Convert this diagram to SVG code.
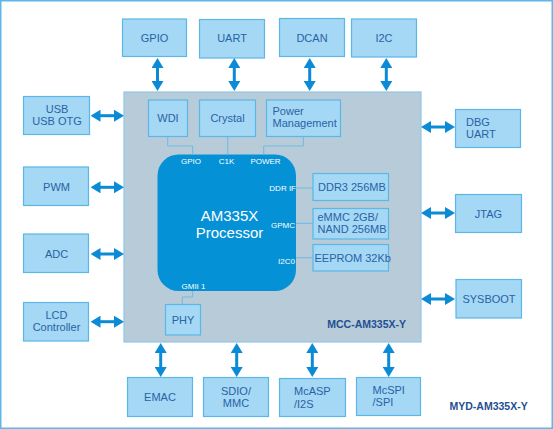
<svg xmlns="http://www.w3.org/2000/svg" width="553" height="429" viewBox="0 0 553 429">
<defs>
<marker id="ah" viewBox="0 0 10 12" refX="2" refY="6" markerWidth="10" markerHeight="12" markerUnits="userSpaceOnUse" orient="auto-start-reverse">
<path d="M0,0 L10,6 L0,12 z" fill="#0b8bd5"/>
</marker>
</defs>
<style>
.box{fill:#a4d8f4;stroke:#5cb6e6;stroke-width:1.2}
.t{font-family:"Liberation Sans",Arial,sans-serif;font-size:11px;fill:#2a62a6;text-anchor:middle}
.tl{font-family:"Liberation Sans",Arial,sans-serif;font-size:11px;fill:#2a62a6}
.s{font-family:"Liberation Sans",Arial,sans-serif;font-size:8px;fill:#ffffff}
.b{font-family:"Liberation Sans",Arial,sans-serif;font-size:10.5px;font-weight:bold;fill:#1f4f92}
.arr{stroke:#0b8bd5;stroke-width:3;fill:none;marker-start:url(#ah);marker-end:url(#ah)}
.wire{stroke:#6dbbe6;stroke-width:1;fill:none}
</style>
<rect x="0.75" y="0.75" width="551.5" height="427.5" fill="#ffffff" stroke="#5db8e8" stroke-width="1.5"/>

<g id="module">
<rect x="124" y="92" width="297" height="250" fill="#b8cbd8" stroke="#8fc6e6" stroke-width="1.2"/>
<text class="b" x="406" y="328" text-anchor="end">MCC-AM335X-Y</text>
</g>

<g id="processor">
<rect x="157.5" y="154.5" width="138.5" height="136.5" rx="21" ry="21" fill="#0591d6"/>
<text x="229.5" y="220.5" font-family="'Liberation Sans',Arial,sans-serif" font-size="15" fill="#ffffff" text-anchor="middle">AM335X</text>
<text x="229.5" y="237.5" font-family="'Liberation Sans',Arial,sans-serif" font-size="15" fill="#ffffff" text-anchor="middle">Processor</text>
<text class="s" x="191" y="164" text-anchor="middle">GPIO</text>
<text class="s" x="226.5" y="163.5" text-anchor="middle">C1K</text>
<text class="s" x="265.5" y="164" text-anchor="middle">POWER</text>
<text class="s" x="296" y="191" text-anchor="end">DDR IF</text>
<text class="s" x="295" y="227.5" text-anchor="end">GPMC</text>
<text class="s" x="295" y="263.5" text-anchor="end">I2C0</text>
<text class="s" x="181.5" y="288.5">GMII 1</text>
</g>

<g id="wdi"><rect class="box" x="148.5" y="100" width="39" height="36.5"/><text class="t" x="168" y="122">WDI</text></g>
<g id="crystal"><rect class="box" x="199.5" y="100" width="56" height="36.5"/><text class="t" x="227.5" y="122">Crystal</text></g>
<g id="power"><rect class="box" x="266.5" y="100" width="74" height="36.5"/><text class="tl" x="272.5" y="115">Power</text><text class="tl" x="272.5" y="127">Management</text></g>
<g id="ddr3"><rect class="box" x="313" y="173.5" width="75.5" height="27"/><text class="tl" x="318" y="191">DDR3 256MB</text></g>
<g id="emmc"><rect class="box" x="313" y="208.5" width="75.5" height="30.5"/><text class="tl" x="317.5" y="221">eMMC 2GB/</text><text class="tl" x="317.5" y="233">NAND 256MB</text></g>
<g id="eeprom"><rect class="box" x="313" y="244.5" width="75.5" height="26.5"/><text class="tl" x="314.5" y="262">EEPROM 32Kb</text></g>
<g id="phy"><rect class="box" x="165.5" y="304.5" width="35" height="30.5"/><text class="t" x="183" y="323.5">PHY</text></g>

<g id="gpio"><rect class="box" x="122.5" y="19" width="64" height="37.5"/><text class="t" x="154.5" y="41.5">GPIO</text></g>
<g id="uart"><rect class="box" x="199.5" y="19.5" width="65" height="38.5"/><text class="t" x="232" y="42">UART</text></g>
<g id="dcan"><rect class="box" x="279.5" y="18.5" width="65" height="38"/><text class="t" x="312" y="41.5">DCAN</text></g>
<g id="i2c"><rect class="box" x="351.5" y="19" width="65" height="38"/><text class="t" x="384" y="42">I2C</text></g>

<g id="usb"><rect class="box" x="23.5" y="96.5" width="66" height="38"/><text class="t" x="57" y="112.5">USB</text><text class="t" x="57" y="124.8">USB OTG</text></g>
<g id="pwm"><rect class="box" x="23.5" y="167" width="65" height="38.5"/><text class="t" x="56.5" y="190.5">PWM</text></g>
<g id="adc"><rect class="box" x="23.5" y="234" width="65" height="38.5"/><text class="t" x="56.5" y="257.5">ADC</text></g>
<g id="lcd"><rect class="box" x="23.5" y="302.5" width="65" height="38.5"/><text class="t" x="56.5" y="318.5">LCD</text><text class="t" x="56.5" y="330.5">Controller</text></g>

<g id="dbguart"><rect class="box" x="455.5" y="109.5" width="65" height="38"/><text class="tl" x="466" y="126">DBG</text><text class="tl" x="466" y="138">UART</text></g>
<g id="jtag"><rect class="box" x="455.5" y="194.5" width="66" height="38"/><text class="t" x="488.5" y="217.5">JTAG</text></g>
<g id="sysboot"><rect class="box" x="456" y="279.5" width="65.5" height="38.5"/><text class="t" x="489" y="303">SYSBOOT</text></g>

<g id="emac"><rect class="box" x="127.5" y="377.5" width="65" height="39"/><text class="t" x="160" y="401">EMAC</text></g>
<g id="sdio"><rect class="box" x="203.5" y="377.5" width="65" height="39"/><text class="t" x="236" y="394.5">SDIO/</text><text class="t" x="236" y="407">MMC</text></g>
<g id="mcasp"><rect class="box" x="279.5" y="378.5" width="66" height="38"/><text class="tl" x="294" y="395">McASP</text><text class="tl" x="294" y="407.5">/I2S</text></g>
<g id="mcspi"><rect class="box" x="356.5" y="377.5" width="64" height="38"/><text class="tl" x="372.5" y="394">McSPI</text><text class="tl" x="372.5" y="406">/SPI</text></g>

<text class="b" id="board-label" x="449.5" y="410">MYD-AM335X-Y</text>

<g id="connectors">
<line class="arr" x1="157.5" y1="66" x2="157.5" y2="83"/>
<line class="arr" x1="234.3" y1="66" x2="234.3" y2="83"/>
<line class="arr" x1="309.7" y1="66" x2="309.7" y2="83"/>
<line class="arr" x1="386.3" y1="66" x2="386.3" y2="83"/>

<line class="arr" x1="98.5" y1="115.7" x2="116" y2="115.7"/>
<line class="arr" x1="98.5" y1="187.3" x2="116" y2="187.3"/>
<line class="arr" x1="98.5" y1="254" x2="116" y2="254"/>
<line class="arr" x1="98.5" y1="321.7" x2="116" y2="321.7"/>

<line class="arr" x1="429" y1="127" x2="447" y2="127"/>
<line class="arr" x1="429" y1="213" x2="447" y2="213"/>
<line class="arr" x1="429" y1="299" x2="447" y2="299"/>

<line class="arr" x1="160.7" y1="351" x2="160.7" y2="369"/>
<line class="arr" x1="236.7" y1="351" x2="236.7" y2="369"/>
<line class="arr" x1="312.3" y1="351" x2="312.3" y2="369"/>
<line class="arr" x1="388.7" y1="351" x2="388.7" y2="369"/>

<polyline class="wire" points="167.7,136.5 167.7,146 192.7,146 192.7,154.5"/>
<polyline class="wire" points="227.7,136.5 227.7,154.5"/>
<polyline class="wire" points="303.3,136.5 303.3,146 263.7,146 263.7,154.5"/>
<line class="wire" x1="296" y1="188" x2="313" y2="188"/>
<line class="wire" x1="296" y1="223.3" x2="313" y2="223.3"/>
<line class="wire" x1="296" y1="257.7" x2="313" y2="257.7"/>
<polyline class="wire" points="192.7,291 192.7,297 182.3,297 182.3,304.5"/>
</g>
</svg>
